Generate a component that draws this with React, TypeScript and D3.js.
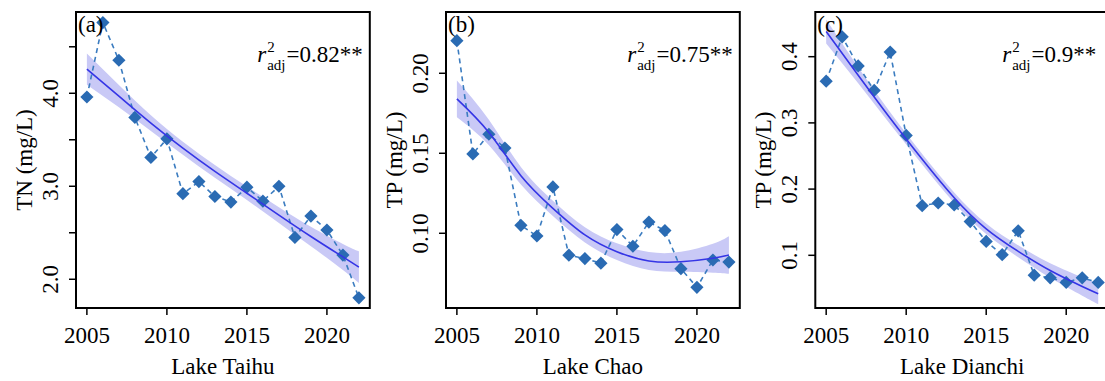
import { useEffect, useRef } from 'react';
import * as d3 from 'd3';

const years = [2005, 2006, 2007, 2008, 2009, 2010, 2011, 2012, 2013, 2014, 2015, 2016, 2017, 2018, 2019, 2020, 2021, 2022];
const tnTaihu = [3.96, 4.76, 4.355, 3.74, 3.31, 3.51, 2.92, 3.05, 2.89, 2.83, 2.99, 2.84, 3.0, 2.45, 2.68, 2.53, 2.26, 1.8];
const tpChao = [0.2204, 0.1496, 0.1619, 0.1533, 0.105, 0.0983, 0.129, 0.0863, 0.0842, 0.0813, 0.1023, 0.0919, 0.107, 0.1017, 0.0779, 0.0662, 0.0833, 0.082];
const tpDianchi = [0.363, 0.43, 0.386, 0.349, 0.407, 0.281, 0.175, 0.179, 0.176, 0.151, 0.121, 0.101, 0.137, 0.07, 0.066, 0.059, 0.066, 0.059];

// fitted trend and half-width of the shaded band, read at these years
const fitYears = [2005, 2007, 2009, 2011, 2013, 2015, 2017, 2019, 2021, 2022];
const fitTaihu = [4.26, 3.97, 3.68, 3.41, 3.16, 2.925, 2.69, 2.46, 2.24, 2.13];
const bandTaihu = [0.167, 0.12, 0.085, 0.07, 0.068, 0.072, 0.085, 0.105, 0.14, 0.17];
const fitChao = [0.184, 0.163, 0.136, 0.1156, 0.099, 0.0885, 0.0827, 0.0822, 0.0844, 0.0864];
const bandChao = [0.0115, 0.008, 0.0055, 0.0048, 0.0048, 0.0052, 0.0056, 0.0062, 0.009, 0.0117];
const fitDianchi = [0.438, 0.372, 0.307, 0.245, 0.187, 0.14, 0.106, 0.077, 0.053, 0.042];
const bandDianchi = [0.018, 0.012, 0.009, 0.008, 0.008, 0.008, 0.009, 0.011, 0.014, 0.016];

const xTicks = [2005, 2010, 2015, 2020];
const yTicksTaihu = [2.0, 2.5, 3.0, 3.5, 4.0, 4.5];
const yLabelsTaihu = [2.0, 3.0, 4.0];
const yTicksChao = [0.1, 0.15, 0.2];
const yTicksDianchi = [0.1, 0.2, 0.3, 0.4];

const r2Values = ['0.82', '0.75', '0.9'];

const FONT = '"Liberation Serif", "Times New Roman", serif';
const POINT = '#2a6bb3';
const FIT = '#3535e6';
const BAND = '#c9c9f6';
const FS = 23;

const panels = [
  { left: 76, yDomain: [1.691, 4.874], values: tnTaihu, fit: fitTaihu, band: bandTaihu, ticks: yTicksTaihu, labels: yLabelsTaihu, fmt: '.1f', ylab: 'TN (mg/L)', xlab: 'Lake Taihu', tag: '(a)', r2: r2Values[0] },
  { left: 446, yDomain: [0.0533, 0.2383], values: tpChao, fit: fitChao, band: bandChao, ticks: yTicksChao, labels: yTicksChao, fmt: '.2f', ylab: 'TP (mg/L)', xlab: 'Lake Chao', tag: '(b)', r2: r2Values[1] },
  { left: 815.3, yDomain: [0.0204, 0.4675], values: tpDianchi, fit: fitDianchi, band: bandDianchi, ticks: yTicksDianchi, labels: yTicksDianchi, fmt: '.1f', ylab: 'TP (mg/L)', xlab: 'Lake Dianchi', tag: '(c)', r2: r2Values[2] },
];

export default function App() {
  const svgRef = useRef<SVGSVGElement>(null);

  useEffect(() => {
    if (!svgRef.current) return;
    const svg = d3.select(svgRef.current);
    svg.selectAll('*').remove();

    const top = 12;
    const bottom = 308;
    const width = 293.8;

    panels.forEach((p) => {
      const x = d3.scaleLinear().domain([2004.32, 2022.68]).range([p.left, p.left + width]);
      const y = d3.scaleLinear().domain(p.yDomain).range([bottom, top]);
      const g = svg.append('g').attr('font-family', FONT).attr('fill', '#000');

      // band
      const area = d3.area<number>()
        .x((_, i) => x(fitYears[i]))
        .y0((d, i) => y(d - p.band[i]))
        .y1((d, i) => y(d + p.band[i]))
        .curve(d3.curveNatural);
      g.append('path').datum(p.fit).attr('fill', BAND).attr('d', area);

      // observed series
      const line = d3.line<number>().x((_, i) => x(years[i])).y(d => y(d));
      g.append('path')
        .datum(p.values)
        .attr('fill', 'none')
        .attr('stroke', '#3b7cc0')
        .attr('stroke-width', 1.6)
        .attr('stroke-dasharray', '5,4')
        .attr('d', line);

      const s = 6.6;
      g.selectAll('path.pt')
        .data(p.values)
        .join('path')
        .attr('class', 'pt')
        .attr('fill', POINT)
        .attr('d', (d, i) => {
          const cx = x(years[i]);
          const cy = y(d);
          return `M${cx},${cy - s}L${cx + s},${cy}L${cx},${cy + s}L${cx - s},${cy}Z`;
        });

      // fitted line
      const fitLine = d3.line<number>()
        .x((_, i) => x(fitYears[i]))
        .y(d => y(d))
        .curve(d3.curveNatural);
      g.append('path').datum(p.fit).attr('fill', 'none').attr('stroke', FIT).attr('stroke-width', 1.6).attr('d', fitLine);

      // box
      g.append('rect')
        .attr('x', p.left)
        .attr('y', top)
        .attr('width', width)
        .attr('height', bottom - top)
        .attr('fill', 'none')
        .attr('stroke', '#000')
        .attr('stroke-width', 2);

      // x axis
      xTicks.forEach((t) => {
        g.append('line').attr('x1', x(t)).attr('x2', x(t)).attr('y1', bottom + 1).attr('y2', bottom + 7)
          .attr('stroke', '#000').attr('stroke-width', 1.5);
        g.append('text').attr('x', x(t)).attr('y', 343).attr('text-anchor', 'middle').attr('font-size', FS).text(t);
      });
      g.append('text')
        .attr('x', p.left + width / 2)
        .attr('y', 374)
        .attr('text-anchor', 'middle')
        .attr('font-size', FS)
        .text(p.xlab);

      // y axis
      const fmt = d3.format(p.fmt);
      p.ticks.forEach((t) => {
        g.append('line').attr('x1', p.left - 7).attr('x2', p.left).attr('y1', y(t)).attr('y2', y(t))
          .attr('stroke', '#000').attr('stroke-width', 1.5);
      });
      p.labels.forEach((t) => {
        g.append('text')
          .attr('transform', `translate(${p.left - 18},${y(t)}) rotate(-90)`)
          .attr('text-anchor', 'middle')
          .attr('font-size', FS)
          .text(fmt(t));
      });
      g.append('text')
        .attr('transform', `translate(${p.left - 44},${(top + bottom) / 2}) rotate(-90)`)
        .attr('text-anchor', 'middle')
        .attr('font-size', FS)
        .text(p.ylab);

      // panel tag
      g.append('text').attr('x', p.left + 2).attr('y', 32).attr('font-size', FS).text(p.tag);

      // r2 annotation, centred near 2019
      const cx = x(2018.94);
      const base = 62;
      const rT = g.append('text').attr('font-size', FS).attr('font-style', 'italic').text('r');
      const supT = g.append('text').attr('font-size', 15).text('2');
      const subT = g.append('text').attr('font-size', 15).text('adj');
      const mainT = g.append('text').attr('font-size', FS).text(`=${p.r2}**`);
      const wr = (rT.node() as SVGTextElement).getComputedTextLength();
      const wsup = (supT.node() as SVGTextElement).getComputedTextLength();
      const wsub = (subT.node() as SVGTextElement).getComputedTextLength();
      const wm = (mainT.node() as SVGTextElement).getComputedTextLength();
      const total = wr + 1 + Math.max(wsup, wsub) + 1 + wm;
      const x0 = cx - total / 2;
      rT.attr('x', x0).attr('y', base);
      supT.attr('x', x0 + wr + 1).attr('y', base - 10.5);
      subT.attr('x', x0 + wr + 1).attr('y', base + 7.5);
      mainT.attr('x', x0 + wr + 2 + Math.max(wsup, wsub)).attr('y', base);
    });
  }, []);

  return (
    <svg
      ref={svgRef}
      width={1105}
      height={381}
      style={{ position: 'absolute', left: 0, top: 0, background: '#fff' }}
    />
  );
}
